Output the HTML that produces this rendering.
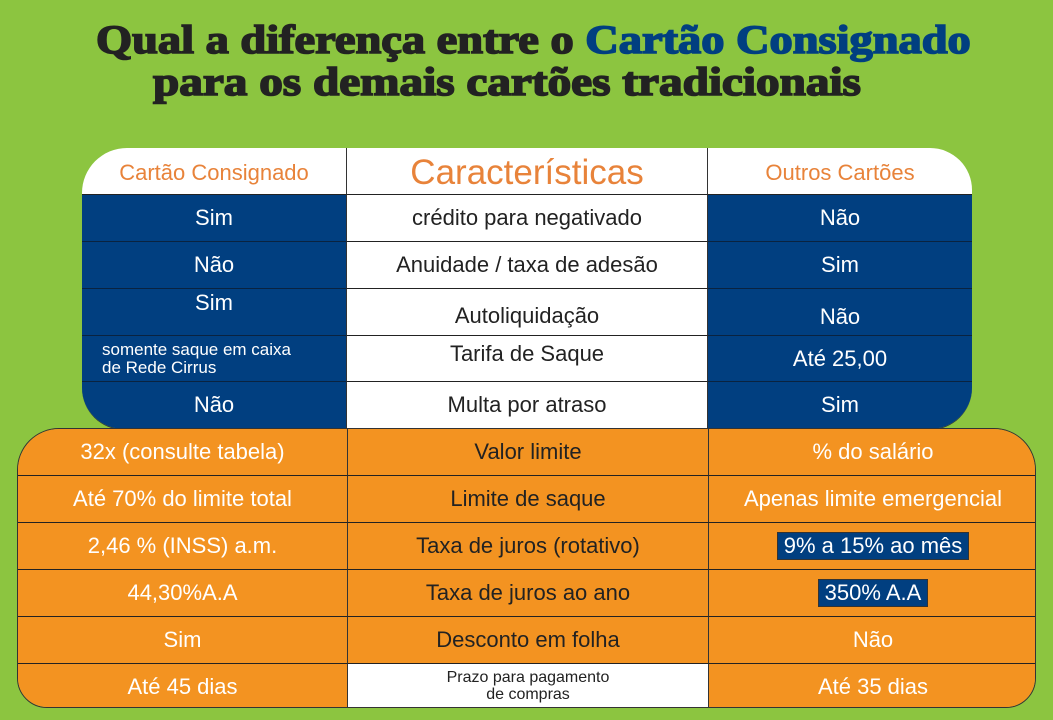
<!DOCTYPE html>
<html><head><meta charset="utf-8"><style>
body{margin:0;width:1053px;height:720px;background:#8cc540;overflow:hidden;font-family:"Liberation Sans",sans-serif;position:relative}
.t{position:absolute;left:0;font-family:"Liberation Serif",serif;font-weight:bold;font-size:40px;color:#222;-webkit-text-stroke:1.6px #222;white-space:nowrap;transform-origin:0 0}
.blk{position:absolute;display:grid;overflow:hidden}
.c{display:flex;align-items:center;justify-content:center;text-align:center;box-sizing:border-box;border-right:1px solid #333;border-bottom:1px solid #222;font-size:22px;line-height:1.05}
.c:nth-child(3n){border-right:none}
.b{background:#013f80;color:#fff;border-bottom-color:#0a2340}
.w{background:#fff;color:#222}
.o{background:#f39321;color:#fff}
.od{background:#f39321;color:#222}
.box{background:#013f80;color:#fff;padding:1px 6px;border:1px solid #333}
</style></head><body>
<div class="t" style="top:16px;left:96px;transform:scaleX(1.16)">Qual a diferença entre o <span style="color:#013f80;-webkit-text-stroke:1.6px #013f80">Cartão Consignado</span></div>
<div class="t" style="top:58px;left:153px;transform:scaleX(1.18)">para os demais cartões tradicionais</div>

<div class="blk" style="left:82px;top:148px;width:890px;height:281px;grid-template-columns:265px 361px 264px;grid-template-rows:47px 47px 47px 47px 46px 47px;border-radius:45px 42px 42px 42px;border-bottom:1px solid #333">
<div class="c w" style="color:#e8833a;font-size:22px;padding-top:4px">Cartão Consignado</div>
<div class="c w" style="color:#e8833a;font-size:35px;padding-top:4px">Características</div>
<div class="c w" style="color:#e8833a;font-size:22px;padding-top:4px">Outros Cartões</div>
<div class="c b">Sim</div><div class="c w">crédito para negativado</div><div class="c b">Não</div>
<div class="c b">Não</div><div class="c w">Anuidade / taxa de adesão</div><div class="c b">Sim</div>
<div class="c b" style="align-items:flex-start;padding-top:2px">Sim</div><div class="c w" style="padding-top:8px">Autoliquidação</div><div class="c b" style="padding-top:10px">Não</div>
<div class="c b" style="font-size:17px;justify-content:flex-start;text-align:left;padding-left:20px">somente saque em caixa<br>de Rede Cirrus</div><div class="c w" style="padding-bottom:10px">Tarifa de Saque</div><div class="c b">Até 25,00</div>
<div class="c b">Não</div><div class="c w">Multa por atraso</div><div class="c b">Sim</div>
</div>

<div class="blk" style="left:17px;top:428px;width:1019px;height:280px;grid-template-columns:330px 361px 328px;grid-template-rows:47px 47px 47px 47px 47px 45px;border-radius:42px 42px 30px 30px;border:1px solid #333;box-sizing:border-box">
<div class="c o">32x (consulte tabela)</div><div class="c od">Valor limite</div><div class="c o">% do salário</div>
<div class="c o">Até 70% do limite total</div><div class="c od">Limite de saque</div><div class="c o">Apenas limite emergencial</div>
<div class="c o">2,46 % (INSS) a.m.</div><div class="c od">Taxa de juros (rotativo)</div><div class="c o"><span class="box">9% a 15% ao mês</span></div>
<div class="c o">44,30%A.A</div><div class="c od">Taxa de juros ao ano</div><div class="c o"><span class="box">350% A.A</span></div>
<div class="c o">Sim</div><div class="c od">Desconto em folha</div><div class="c o">Não</div>
<div class="c o" style="border-bottom:none">Até 45 dias</div><div class="c w" style="font-size:16px;border-bottom:none">Prazo para pagamento<br>de compras</div><div class="c o" style="border-bottom:none">Até 35 dias</div>
</div>
</body></html>
